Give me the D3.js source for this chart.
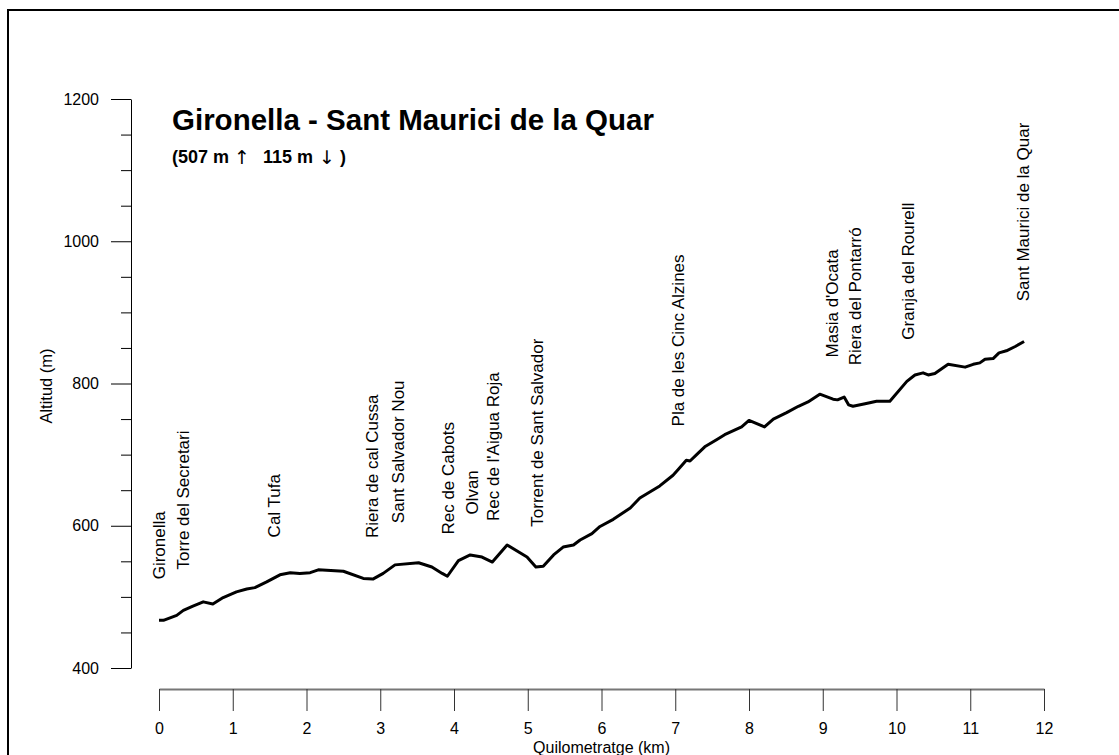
<!DOCTYPE html>
<html>
<head>
<meta charset="utf-8">
<script src="https://cdn.jsdelivr.net/npm/d3@7"></script>
<style>
	body { margin: 0; background: #fff; }
	svg { display: block; font-family: "Liberation Sans", Arial, sans-serif; }
</style>
</head>
<body>
<div id="profile_container"></div>
<script>
// profile data (km, altitude in m)
// ----------------------------------------
var km = [0.00, 0.06, 0.24, 0.33, 0.46, 0.60, 0.73, 0.87, 1.05, 1.19, 1.30, 1.46, 1.64, 1.78, 1.91, 2.05, 2.16, 2.50, 2.77, 2.90,
	3.04, 3.20, 3.52, 3.70, 3.84, 3.91, 4.06, 4.22, 4.38, 4.52, 4.72, 4.99, 5.11, 5.21, 5.35, 5.48, 5.62, 5.71, 5.87, 5.98,
	6.16, 6.39, 6.52, 6.79, 6.97, 7.04, 7.15, 7.20, 7.29, 7.40, 7.56, 7.67, 7.90, 8.00, 8.21, 8.33, 8.51, 8.67, 8.80, 8.96,
	9.14, 9.20, 9.29, 9.35, 9.41, 9.59, 9.73, 9.91, 10.14, 10.25, 10.36, 10.43, 10.52, 10.70, 10.93, 11.04, 11.13, 11.20, 11.31, 11.39,
	11.49, 11.61, 11.73];
var altitude = [467, 467, 474, 481, 487, 493, 490, 499, 507, 511, 513, 521, 531, 534, 533, 534, 538, 536, 526, 525,
	533, 545, 548, 542, 533, 529, 551, 559, 556, 549, 573, 556, 542, 543, 559, 570, 573, 580, 589, 599,
	609, 625, 639, 656, 671, 679, 692, 691, 700, 711, 721, 728, 739, 748, 739, 750, 759, 768, 774, 785,
	778, 777, 781, 770, 768, 772, 775, 775, 803, 812, 815, 812, 814, 827, 823, 827, 829, 834, 835, 843,
	846, 852, 859];

// places along the route
var place_names = ["Gironella", "Torre del Secretari", "Cal Tufa", "Riera de cal Cussa", "Sant Salvador Nou",
	"Rec de Cabots", "Olvan", "Rec de l'Aigua Roja", "Torrent de Sant Salvador", "Pla de les Cinc Alzines",
	"Masia d'Ocata", "Riera del Pontarró", "Granja del Rourell", "Sant Maurici de la Quar"];
var place_km = [0, 0.33, 1.56, 2.89, 3.24, 3.92, 4.24, 4.53, 5.13, 7.04, 9.13, 9.44, 10.16, 11.72];
var place_alt = [467, 481, 526, 525, 546, 530, 558, 549, 541, 682, 779, 768, 804, 858];

// axes
var x_ticks = [0, 1, 2, 3, 4, 5, 6, 7, 8, 9, 10, 11, 12];
var y_major = [400, 600, 800, 1000, 1200];
var y_minor = [450, 500, 550, 650, 700, 750, 850, 900, 950, 1050, 1100, 1150];

var title = "Gironella - Sant Maurici de la Quar";
var ascent = 507, descent = 115;
var x_title = "Quilometratge (km)";
var y_title = "Altitud (m)";

// main variables
// ----------------------------------------
var width = 1119, height = 755;

dataviz();

function dataviz(){
	var svg = d3.select("#profile_container")
		.append("svg")
		.attr("width", width)
		.attr("height", height)

	// frame
	svg.append("rect")
		.attr("x", 8).attr("y", 10)
		.attr("width", 1200).attr("height", 900)
		.attr("fill", "none")
		.attr("stroke", "#000")
		.attr("stroke-width", 2)

	var x = d3.scaleLinear().domain([0, 12]).range([159, 1044]);
	var y = d3.scaleLinear().domain([400, 1200]).range([668, 99]);

	// y axis, major + minor ticks
	var y_axis = svg.append("g")
		.attr("transform", "translate(131,0)")
		.call(d3.axisLeft(y).tickValues(y_major).tickSize(20).tickSizeOuter(0).tickPadding(12).tickFormat(d3.format("d")))
	y_axis.selectAll("text").attr("font-size", 16).attr("font-family", "Liberation Sans, Arial, sans-serif").attr("fill", "#000")

	svg.append("g")
		.attr("transform", "translate(131,0)")
		.call(d3.axisLeft(y).tickValues(y_minor).tickSize(10).tickSizeOuter(0).tickFormat(""))
		.select(".domain").remove()

	svg.append("text")
		.attr("transform", "translate(46,386) rotate(-90)")
		.attr("text-anchor", "middle")
		.attr("dy", "0.35em")
		.attr("font-size", 16.5)
		.text(y_title)

	// x axis
	var x_axis = svg.append("g")
		.attr("transform", "translate(0,689)")
		.call(d3.axisBottom(x).tickValues(x_ticks).tickSize(22).tickSizeOuter(0).tickPadding(12))
	x_axis.select(".domain").attr("stroke", "#777").attr("stroke-width", 2)
	x_axis.selectAll(".tick line").attr("stroke", "#333")
	x_axis.selectAll("text").attr("font-size", 16).attr("font-family", "Liberation Sans, Arial, sans-serif").attr("fill", "#000")

	svg.append("text")
		.attr("x", x(6)).attr("y", 753)
		.attr("text-anchor", "middle")
		.attr("font-size", 16)
		.text(x_title)

	// profile line
	var points = km.map(function(d, i){ return [d, altitude[i]]; });
	var line = d3.line()
		.x(function(d){ return x(d[0]); })
		.y(function(d){ return y(d[1]); });

	svg.append("path")
		.datum(points)
		.attr("d", line)
		.attr("fill", "none")
		.attr("stroke", "#000")
		.attr("stroke-width", 3)
		.attr("stroke-linejoin", "round")

	// place labels
	svg.append("g")
		.selectAll("text")
		.data(place_names)
		.enter().append("text")
		.attr("transform", function(d, i){
			return "translate(" + x(place_km[i]) + "," + (y(place_alt[i]) - 41) + ") rotate(-90)";
		})
		.attr("dy", "0.35em")
		.attr("font-size", 17)
		.text(function(d){ return d; })

	// title
	svg.append("text")
		.attr("x", 172).attr("y", 130)
		.attr("font-size", 29.5)
		.attr("font-weight", "bold")
		.text(title)

	// ascent / descent line
	var sub = svg.append("g")
		.attr("font-size", 18)
	sub.append("text").attr("x", 172).attr("y", 163).attr("font-weight", "bold").text("(" + ascent + " m")
	sub.append("text").attr("x", 242).attr("y", 164).attr("text-anchor", "middle")
		.attr("font-family", "DejaVu Sans").attr("font-size", 19).text("\u2191")
	sub.append("text").attr("x", 263).attr("y", 163).attr("font-weight", "bold").text(descent + " m")
	sub.append("text").attr("x", 327).attr("y", 164).attr("text-anchor", "middle")
		.attr("font-family", "DejaVu Sans").attr("font-size", 19).text("\u2193")
	sub.append("text").attr("x", 340).attr("y", 163).attr("font-weight", "bold").text(")")
};
</script>
</body>
</html>
